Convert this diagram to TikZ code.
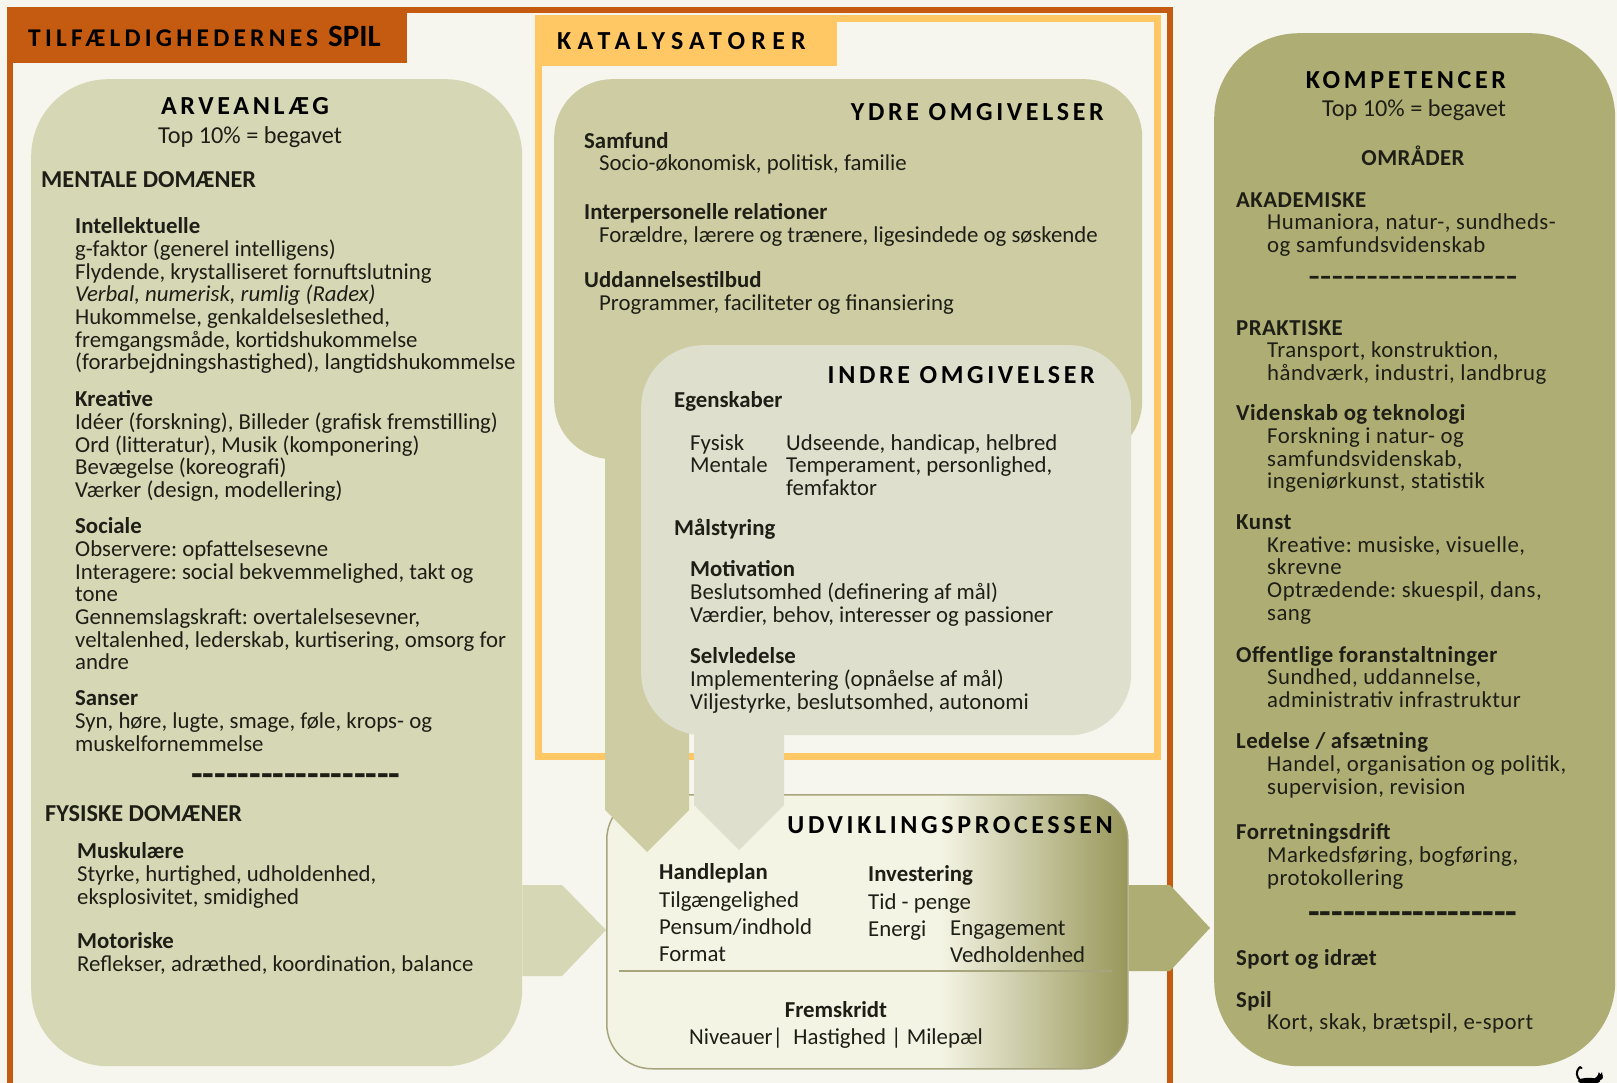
\documentclass[tikz,border=0pt]{standalone}
\usepackage{fontspec}
\setmainfont{Carlito}
\newfontfamily\spacedfont[LetterSpace=14]{Carlito}
\newfontfamily\tabfont[LetterSpace=16.5]{Carlito}
\newfontfamily\katfont[LetterSpace=24]{Carlito}
\newfontfamily\kompfont[LetterSpace=2]{Carlito}
\usetikzlibrary{positioning}
\frenchspacing

\definecolor{bgcol}{HTML}{F6F5EE}
\definecolor{framecol}{HTML}{C55A11}
\definecolor{katcol}{HTML}{FFC864}
\definecolor{arvcol}{HTML}{D6D7B5}
\definecolor{ydrecol}{HTML}{CDCCA2}
\definecolor{indrecol}{HTML}{DEDFCC}
\definecolor{kompcol}{HTML}{ADAD74}
\definecolor{proclight}{HTML}{F4F4E4}
\definecolor{procdark}{HTML}{98975A}
\definecolor{procline}{HTML}{A6A57E}
\definecolor{ink}{HTML}{1E1E16}

\pgfdeclarehorizontalshading{procshade}{100bp}{color(0bp)=(proclight); color(25bp)=(proclight); color(57bp)=(proclight); color(75bp)=(procdark); color(100bp)=(procdark)}

\newcommand\bodysize{\fontsize{22.8}{22.7}\selectfont}
\newcommand\procsize{\fontsize{22.8}{27.3}\selectfont}
\newcommand\bigsize{\fontsize{24.3}{26}\selectfont}
\newcommand\headfont{\spacedfont\bfseries\fontsize{26}{28}\selectfont}
\newcommand\ind{\hspace*{31pt}}
\newcommand\dashrow{\fontsize{38}{38}\selectfont\foreach\k in {1,...,18}{-}}

\begin{document}
\begin{tikzpicture}[x=1pt, y=-1pt,
    panel/.style = {rounded corners=#1, inner sep=0pt, anchor=north west},
    txt/.style = {anchor=north west, align=left, inner sep=0pt, text=ink, font=\bodysize, execute at begin node=\rule{0pt}{17pt}},
    ptxt/.style = {txt, font=\procsize},
    ktxt/.style = {txt, font=\kompfont\bodysize},
    oneline/.style = {anchor=base west, inner sep=0pt, text=ink, font=\bodysize},
    heading/.style = {anchor=base, inner sep=0pt, text=black, font=\headfont}]

\useasboundingbox (0,0) rectangle (1617,1083);
\fill[bgcol] (0,0) rectangle (1617,1083);

% frames
\draw[framecol, line width=6pt] (10,10) rectangle (1170,1086);
\draw[katcol, line width=7pt] (538,19) rectangle (1157,756);
\node[panel=0pt, fill=framecol, minimum width=400pt, minimum height=56pt] (tabchance) at (7,7) {};
\node[panel=0pt, fill=katcol, minimum width=302pt, minimum height=51pt] (tabkat) at (535,15) {};
\node[anchor=base west, inner sep=0pt, font=\tabfont\bfseries\fontsize{25.5}{27}\selectfont] (chancetxt) at (28,47)
    {TILFÆLDIGHEDERNES {\normalfont\bfseries\fontsize{31}{31}\selectfont SPIL}};
\node[anchor=base west, inner sep=0pt, font=\katfont\bfseries\fontsize{26}{27}\selectfont] (kattxt) at (557,50) {KATALYSATORER};

% boxes
\node[panel=77pt, fill=arvcol, minimum width=491pt, minimum height=987pt] (arv) at (31,79) {};
\node[panel=85pt, fill=kompcol, minimum width=401pt, minimum height=1033pt] (komp) at (1214,33) {};
\node[panel=58pt, fill=ydrecol, minimum width=588pt, minimum height=380pt] (ydre) at (554,79) {};
\node[panel=45pt, draw=procline, line width=1.5pt, shade, shading=procshade, minimum width=521pt, minimum height=274pt] (proc) at (606,794) {};
\fill[ydrecol] (605,440) -- (689,440) -- (689,810) -- (647,852) -- (605,810) -- cycle;
\node[panel=62pt, fill=indrecol, minimum width=490pt, minimum height=390pt] (indre) at (641,345) {};
\fill[indrecol] (694,720) -- (784,720) -- (784,805) -- (739,850) -- (694,805) -- cycle;

% block arrows
\fill[arvcol] (arv.east |- 0,885) -- (562,885) -- (proc.west |- 0,930) -- (562,976) -- (arv.east |- 0,976) -- cycle;
\fill[kompcol] (proc.east |- 0,885) -- (1170,885) -- (1210,928) -- (1170,971) -- (proc.east |- 0,971) -- cycle;

% ARVEANLAEG
\node[heading] (arvtitle) at (245,115) {ARVEANLÆG};
\node[oneline, anchor=base, font=\bigsize] (arvtop) at (250,144) {Top 10\% = begavet};
\node[oneline, font=\bigsize\bfseries] (mental) at (41,188) {MENTALE DOMÆNER};
\node[txt] (intel) at (75,217.5) {\textbf{Intellektuelle}\\
    g-faktor (generel intelligens)\\
    Flydende, krystalliseret fornuftslutning\\
    \textit{Verbal, numerisk, rumlig (Radex)}\\
    Hukommelse, genkaldelseslethed,\\
    fremgangsmåde, kortidshukommelse\\
    (forarbejdningshastighed), langtidshukommelse};
\node[txt] (kreativ) at (75,390.5) {\textbf{Kreative}\\
    Idéer (forskning), Billeder (grafisk fremstilling)\\
    Ord (litteratur), Musik (komponering)\\
    Bevægelse (koreografi)\\
    Værker (design, modellering)};
\node[txt] (social) at (75,517.5) {\textbf{Sociale}\\
    Observere: opfattelsesevne\\
    Interagere: social bekvemmelighed, takt og\\
    tone\\
    Gennemslagskraft: overtalelsesevner,\\
    veltalenhed, lederskab, kurtisering, omsorg for\\
    andre};
\node[txt] (sanser) at (75,690.5) {\textbf{Sanser}\\
    Syn, høre, lugte, smage, føle, krops- og\\
    muskelfornemmelse};
\node[oneline, anchor=base, font=\bfseries] (arvdash) at (296,786) {\dashrow};
\node[oneline, font=\bigsize\bfseries] (fysisk) at (45,821) {FYSISKE DOMÆNER};
\node[txt] (muskel) at (77,842.5) {\textbf{Muskulære}\\
    Styrke, hurtighed, udholdenhed,\\
    eksplosivitet, smidighed};
\node[txt] (motor) at (77,932.5) {\textbf{Motoriske}\\
    Reflekser, adræthed, koordination, balance};

% YDRE OMGIVELSER
\node[heading, anchor=base east] (ydretitle) at (1104,121) {YDRE OMGIVELSER};
\node[txt] (samfund) at (584,132) {\textbf{Samfund}\\ \hspace*{15pt}Socio-økonomisk, politisk, familie};
\node[txt] (interp) at (584,203.5) {\textbf{Interpersonelle relationer}\\ \hspace*{15pt}Forældre, lærere og trænere, ligesindede og søskende};
\node[txt] (uddan) at (584,271.5) {\textbf{Uddannelsestilbud}\\ \hspace*{15pt}Programmer, faciliteter og finansiering};

% INDRE OMGIVELSER
\node[heading, anchor=base east] (indretitle) at (1095,383) {INDRE OMGIVELSER};
\node[oneline, font=\bodysize\bfseries] (egensk) at (674,407.5) {Egenskaber};
\node[txt] (egtype) at (690,434) {Fysisk\\Mentale};
\node[txt] (egval) at (786,434) {Udseende, handicap, helbred\\Temperament, personlighed,\\femfaktor};
\node[oneline, font=\bodysize\bfseries] (maal) at (674,535.5) {Målstyring};
\node[txt] (motiv) at (690,560.5) {\textbf{Motivation}\\
    Beslutsomhed (definering af mål)\\
    Værdier, behov, interesser og passioner};
\node[txt] (selvl) at (690,647.5) {\textbf{Selvledelse}\\
    Implementering (opnåelse af mål)\\
    Viljestyrke, beslutsomhed, autonomi};

% UDVIKLINGSPROCESSEN
\node[heading, anchor=base east] (proctitle) at (1113,833) {UDVIKLINGSPROCESSEN};
\node[ptxt] (handle) at (659,863.5) {\textbf{Handleplan}\\Tilgængelighed\\Pensum/indhold\\Format};
\node[ptxt] (invest) at (868,865.5) {\textbf{Investering}\\Tid - penge\\Energi};
\node[ptxt] (engage) at (950,920.5) {Engagement\\Vedholdenhed};
\draw[procline, line width=2pt] (619,971) coordinate (sepleft) -- (1112,971) coordinate (sepright);
\node[oneline, anchor=base, font=\bodysize\bfseries] (fremsk) at (836,1017) {Fremskridt};
\node[oneline, anchor=base] (niveau) at (836,1044) {Niveauer|\ \ Hastighed | Milepæl};

% KOMPETENCER
\node[heading] (kompttitle) at (1406,89) {KOMPETENCER};
\node[oneline, anchor=base, font=\bigsize] (komptop) at (1414,117) {Top 10\% = begavet};
\node[oneline, anchor=base, font=\kompfont\bodysize\bfseries] (omraad) at (1413,166) {OMRÅDER};
\node[ktxt] (akad) at (1236,192) {\textbf{AKADEMISKE}\\ \ind Humaniora, natur-, sundheds-\\ \ind og samfundsvidenskab};
\node[oneline, anchor=base] (kompdash1) at (1413,289) {\dashrow};
\node[ktxt] (prakt) at (1236,320) {\textbf{PRAKTISKE}\\ \ind Transport, konstruktion,\\ \ind håndværk, industri, landbrug};
\node[ktxt] (viden) at (1236,404.5) {\textbf{Videnskab og teknologi}\\ \ind Forskning i natur- og\\ \ind samfundsvidenskab,\\ \ind ingeniørkunst, statistik};
\node[ktxt] (kunst) at (1236,514.5) {\textbf{Kunst}\\ \ind Kreative: musiske, visuelle,\\ \ind skrevne\\ \ind Optrædende: skuespil, dans,\\ \ind sang};
\node[ktxt] (offentl) at (1236,646) {\textbf{Offentlige foranstaltninger}\\ \ind Sundhed, uddannelse,\\ \ind administrativ infrastruktur};
\node[ktxt] (ledelse) at (1236,732.5) {\textbf{Ledelse / afsætning}\\ \ind Handel, organisation og politik,\\ \ind supervision, revision};
\node[ktxt] (forretn) at (1236,823.5) {\textbf{Forretningsdrift}\\ \ind Markedsføring, bogføring,\\ \ind protokollering};
\node[oneline, anchor=base, font=\bfseries] (kompdash2) at (1413,924) {\dashrow};
\node[oneline, font=\kompfont\bodysize\bfseries] (sport) at (1236,965.5) {Sport og idræt};
\node[ktxt] (spil) at (1236,991) {\textbf{Spil}\\ \ind Kort, skak, brætspil, e-sport};

% cat
\draw[black, line width=2pt, line cap=round] (1580,1080) .. controls (1576,1077) and (1576,1071) .. (1579,1068) .. controls (1580,1067) .. (1581.5,1068);
\fill[black] (1589,1081) ellipse [x radius=11, y radius=3.2];
\fill[black] (1594,1079) -- (1598,1075.5) -- (1601.5,1079) -- (1597,1083) -- cycle;
\fill[black] (1600,1077) circle [radius=3];
\fill[black] (1597.8,1075.5) -- (1598.8,1072) -- (1600.5,1074.5) -- cycle;
\fill[black] (1600.3,1074.5) -- (1602,1072) -- (1602.6,1076) -- cycle;
\fill[black] (1580,1080) rectangle (1583,1083);
\fill[black] (1595,1080) rectangle (1598,1083);
\end{tikzpicture}
\end{document}
